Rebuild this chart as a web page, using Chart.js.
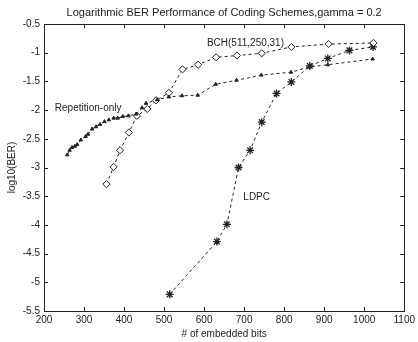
<!DOCTYPE html>
<html>
<head>
<meta charset="utf-8">
<script src="https://cdn.jsdelivr.net/npm/chart.js@4/dist/chart.umd.min.js"></script>
<style>
html, body { margin: 0; padding: 0; background: #fff; }
#wrap { width: 418px; height: 342px; }
</style>
</head>
<body>
<div id="wrap"><canvas id="myChart"></canvas></div>
<script>
// values
var repX = [258, 264, 270, 277, 283, 292, 304, 310, 320, 330, 340, 351, 362, 374, 384, 397, 411, 430, 445, 455, 483, 512, 545, 584, 629, 681, 743, 817, 862, 909, 1021];
var repY = [-2.78, -2.70, -2.65, -2.63, -2.60, -2.52, -2.46, -2.42, -2.33, -2.29, -2.25, -2.20, -2.17, -2.14, -2.14, -2.11, -2.10, -2.07, -1.96, -1.88, -1.82, -1.77, -1.75, -1.74, -1.55, -1.48, -1.39, -1.34, -1.25, -1.21, -1.11];

var bchX = [356, 374, 390, 412, 432, 458, 480, 512, 546, 585, 630, 682, 744, 818, 911, 1023];
var bchY = [-3.29, -2.99, -2.70, -2.39, -2.10, -1.98, -1.83, -1.70, -1.29, -1.21, -1.08, -1.05, -1.01, -0.90, -0.85, -0.83];

var ldpcX = [514, 632, 657, 686, 715, 744, 781, 818, 864, 909, 963, 1022];
var ldpcY = [-5.21, -4.29, -3.99, -3.00, -2.70, -2.21, -1.71, -1.51, -1.23, -1.10, -0.96, -0.90];

var xMin = 200, xMax = 1100, xStep = 100;
var yMin = -5.5, yMax = -0.5, yStep = 0.5;

var titleText = 'Logarithmic BER Performance of Coding Schemes,gamma = 0.2';
var xTitle = '# of embedded bits';
var yTitle = 'log10(BER)';
// text labels placed at data coordinates
var notes = [
    { text: 'BCH(511,250,31)', x: 607, y: -0.83 },
    { text: 'Repetition-only', x: 227, y: -1.96 },
    { text: 'LDPC', x: 698, y: -3.51 }
];

var ink = '#222';
var fontName = '"Liberation Sans", Arial, sans-serif';

toPoints = function(xs, ys){
    var out = [];
    for(var i = 0; i < xs.length; i++){
        out.push({ x: xs[i], y: ys[i] });
    }
    return out;
}

var boxPlugin = {
    id: 'box',
    afterDraw: function(chart){
        var c = chart.ctx, a = chart.chartArea;
        var xs = chart.scales.x, ys = chart.scales.y;
        c.save();
        c.strokeStyle = ink;
        c.lineWidth = 1;
        c.strokeRect(Math.round(a.left) + 0.5, Math.round(a.top) + 0.5, Math.round(a.right - a.left), Math.round(a.bottom - a.top));
        c.beginPath();
        xs.ticks.forEach(function(t){
            var px = Math.round(xs.getPixelForValue(t.value)) + 0.5;
            c.moveTo(px, a.bottom); c.lineTo(px, a.bottom - 4);
            c.moveTo(px, a.top); c.lineTo(px, a.top + 4);
        });
        ys.ticks.forEach(function(t){
            var py = Math.round(ys.getPixelForValue(t.value)) + 0.5;
            c.moveTo(a.left, py); c.lineTo(a.left + 4, py);
            c.moveTo(a.right, py); c.lineTo(a.right - 4, py);
        });
        c.stroke();

        c.fillStyle = ink;
        c.font = '10px ' + fontName;
        c.textBaseline = 'middle';
        c.textAlign = 'left';
        notes.forEach(function(n){
            c.fillText(n.text, xs.getPixelForValue(n.x), ys.getPixelForValue(n.y));
        });

        var cx = (a.left + a.right) / 2;
        c.textAlign = 'center';
        c.font = '11px ' + fontName;
        c.fillText(titleText, cx, 13);
        c.font = '10px ' + fontName;
        c.fillText(xTitle, cx, 334);
        c.translate(12, (a.top + a.bottom) / 2);
        c.rotate(-Math.PI / 2);
        c.fillText(yTitle, 0, 0);
        c.restore();
    }
};

var ctx = document.getElementById('myChart').getContext('2d');

createChart = function(){
    var lineStyle = {
        showLine: true,
        borderColor: ink,
        borderWidth: 1,
        borderDash: [3, 3],
        pointBorderColor: ink
    };
    var myChart = new Chart(ctx, {
        type: 'scatter',
        data: {
            datasets: [
                Object.assign({
                    label: 'Repetition-only',
                    data: toPoints(repX, repY),
                    pointStyle: 'triangle',
                    pointRadius: 2,
                    pointBorderWidth: 1,
                    pointBackgroundColor: ink
                }, lineStyle),
                Object.assign({
                    label: 'BCH(511,250,31)',
                    data: toPoints(bchX, bchY),
                    pointStyle: 'rectRot',
                    pointRadius: 3.6,
                    pointBorderWidth: 1,
                    pointBackgroundColor: '#fff'
                }, lineStyle),
                Object.assign({
                    label: 'LDPC',
                    data: toPoints(ldpcX, ldpcY),
                    pointStyle: 'star',
                    pointRadius: 4,
                    pointBorderWidth: 1.3,
                    pointBackgroundColor: ink
                }, lineStyle)
            ]
        },
        options: {
            responsive: true,
            maintainAspectRatio: false,
            animation: false,
            layout: { padding: { top: 24, right: 11, left: 0, bottom: 0 } },
            plugins: {
                legend: { display: false },
                title: { display: false },
                tooltip: { enabled: false }
            },
            scales: {
                x: {
                    type: 'linear',
                    min: xMin,
                    max: xMax,
                    grid: { display: false, drawTicks: false, tickLength: 0 },
                    border: { display: false },
                    ticks: {
                        stepSize: xStep,
                        color: ink,
                        padding: 3,
                        maxRotation: 0,
                        font: { family: fontName, size: 10 },
                        callback: function(v){ return String(v); }
                    },
                    afterFit: function(s){ s.height = 31; }
                },
                y: {
                    type: 'linear',
                    min: yMin,
                    max: yMax,
                    grid: { display: false, drawTicks: false, tickLength: 0 },
                    border: { display: false },
                    ticks: {
                        stepSize: yStep,
                        color: ink,
                        padding: 4,
                        font: { family: fontName, size: 10 },
                        callback: function(v){ return String(v); }
                    },
                    afterFit: function(s){ s.width = 44; }
                }
            }
        },
        plugins: [boxPlugin]
    });
}

createChart();
</script>
</body>
</html>
